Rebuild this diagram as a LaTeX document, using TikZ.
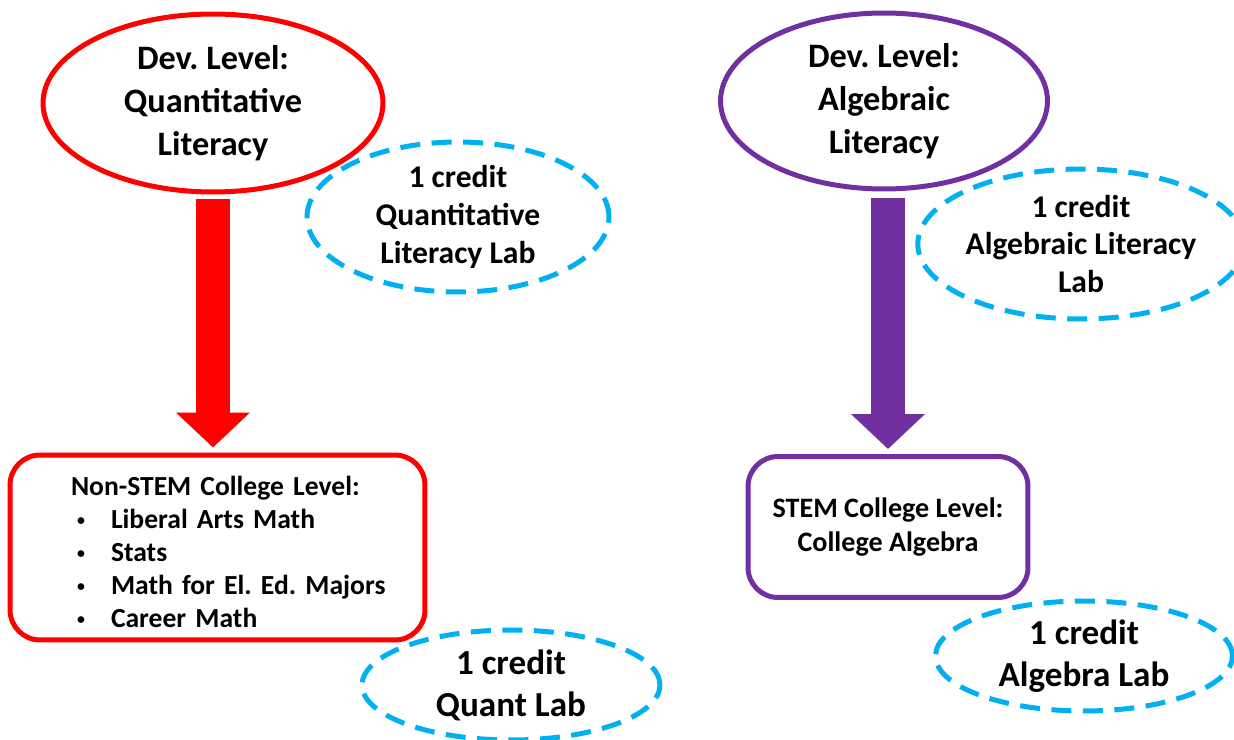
\documentclass[tikz,border=0pt]{standalone}
\usepackage{fontspec}
\setmainfont{Carlito}
\usetikzlibrary{shapes.geometric,arrows.meta}

\definecolor{qred}{HTML}{FF0000}
\definecolor{apurple}{HTML}{7030A0}
\definecolor{labblue}{HTML}{00B0F0}

\newcommand{\bulletitem}[1]{\mbox{\makebox[0.8cm][l]{\hspace{0.12cm}\raisebox{0.05cm}{\fontsize{9}{9}\selectfont\textbullet}}#1}}

\tikzset{
	devlevel/.style={draw,ellipse,line width=0.1cm,inner sep=0,font=\fontsize{19.5}{24.5}\selectfont\bfseries,align=center},
	labnote/.style={draw=labblue,ellipse,line width=0.1cm,dash pattern=on 0.4cm off 0.23cm,inner sep=0,font=\fontsize{18}{21.5}\selectfont\bfseries,align=center},
	labshort/.style={labnote,font=\fontsize{20}{24}\selectfont\bfseries},
	course/.style={draw,rounded corners=0.6cm,line width=0.1cm,inner sep=0,font=\fontsize{15.7}{18.8}\selectfont\bfseries}
}
\tikzset{
	bigarrow/.style={line width=0.68cm,-{Triangle[width=1.44cm,length=0.7cm]}}
}

\begin{document}
\frenchspacing
\begin{tikzpicture}[x=0.02cm,y=-0.02cm]
	\useasboundingbox (0,0) rectangle (1234,740);
	% left column
	\node[devlevel,draw=qred,minimum width=6.8cm,minimum height=3.56cm] (devq) at (213,103) {Dev. Level:\\Quantitative\\Literacy};
	\node[course,draw=qred,minimum width=8.3cm,minimum height=3.7cm,text width=5.86cm,align=left] (nonstem) at (217.5,547.5) {\rule{0pt}{0.55cm}\mbox{Non-STEM College Level:}\\
		\bulletitem{Liberal Arts Math}\\
		\bulletitem{Stats}\\
		\bulletitem{Math for El. Ed. Majors}\\
		\bulletitem{Career Math}};
	\draw[bigarrow,qred,shorten <=0.1cm,shorten >=0.1cm] (devq.south) -- (devq.south |- nonstem.north);
	\node[labnote,minimum width=6.04cm,minimum height=3cm] (qlitlab) at (458,217) {1 credit\\Quantitative\\Literacy Lab};
	\node[labshort,minimum width=5.96cm,minimum height=2.2cm] (quantlab) at (511,685) {1 credit\\Quant Lab};
	% right column
	\node[devlevel,draw=apurple,minimum width=6.54cm,minimum height=3.52cm] (deva) at (884,101) {Dev. Level:\\Algebraic\\Literacy};
	\node[course,draw=apurple,minimum width=5.6cm,minimum height=2.82cm,align=center,font=\fontsize{16}{19.4}\selectfont\bfseries] (stem) at (888,527) {STEM College Level:\\College Algebra};
	\draw[bigarrow,apurple,shorten <=0.14cm,shorten >=0.1cm] (stem.north |- deva.south) -- (stem.north);
	\node[labnote,minimum width=6.06cm,minimum height=3cm] (alitlab) at (1081,244) {1 credit\\Algebraic Literacy\\Lab};
	\node[labshort,minimum width=5.94cm,minimum height=2.2cm] (alglab) at (1084,656) {1 credit\\Algebra Lab};
\end{tikzpicture}
\end{document}
